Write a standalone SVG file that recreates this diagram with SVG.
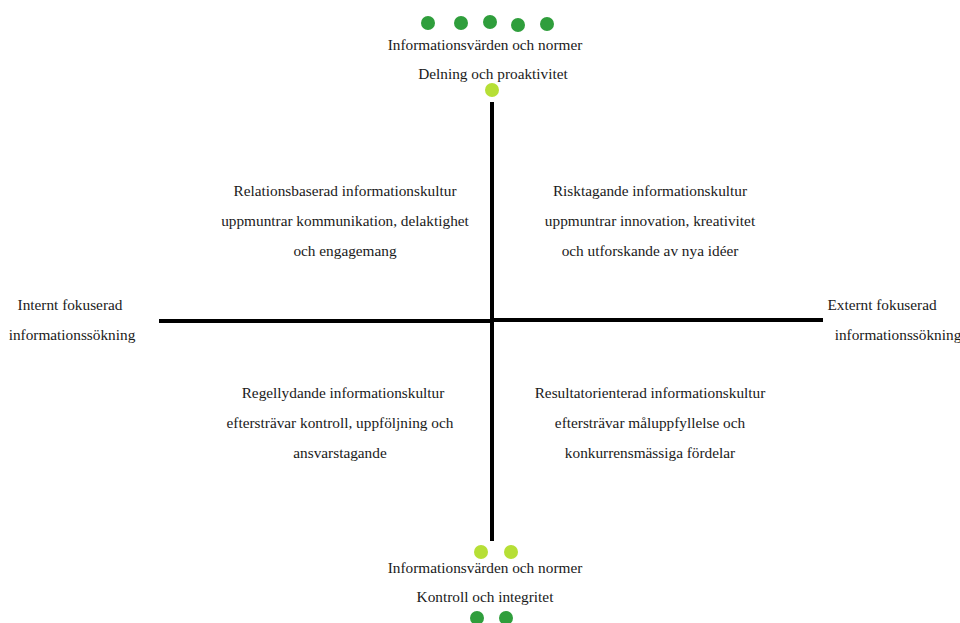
<svg xmlns="http://www.w3.org/2000/svg" width="960" height="623" viewBox="0 0 960 623">
  <style>
    text { font-family: 'Liberation Serif', Tinos, 'Times New Roman', 'DejaVu Serif', serif; font-size: 15.3px; fill: #1a1a1a; text-anchor: middle; }
    .dark { fill: #2f9e3c; }
    .lime { fill: #b6df36; }
    .axis { stroke: #000; stroke-width: 4; fill: none; }
  </style>
  <rect width="960" height="623" fill="#fff"/>

  <!-- axes -->
  <g id="connectors">
    <line class="axis" x1="492" y1="102" x2="492" y2="541"/>
    <line class="axis" x1="159" y1="321" x2="492" y2="321"/>
    <line class="axis" x1="492" y1="320" x2="823" y2="320"/>
  </g>

  <!-- top pole -->
  <g id="top-pole">
    <circle class="dark" cx="428" cy="23" r="7"/>
    <circle class="dark" cx="461" cy="23" r="7"/>
    <circle class="dark" cx="490" cy="22" r="7"/>
    <circle class="dark" cx="518" cy="25" r="7"/>
    <circle class="dark" cx="547" cy="24" r="7"/>
    <text x="485" y="50">Informationsvärden och normer</text>
    <text x="493" y="79">Delning och proaktivitet</text>
    <circle class="lime" cx="492" cy="90" r="7"/>
  </g>

  <!-- bottom pole -->
  <g id="bottom-pole">
    <circle class="lime" cx="481" cy="552" r="7"/>
    <circle class="lime" cx="511" cy="552" r="7"/>
    <text x="485" y="573">Informationsvärden och normer</text>
    <text x="485" y="602">Kontroll och integritet</text>
    <circle class="dark" cx="477" cy="618" r="7"/>
    <circle class="dark" cx="506" cy="618" r="7"/>
  </g>

  <g id="left-axis-label">
    <text x="70" y="310">Internt fokuserad</text>
    <text x="72" y="340">informationssökning</text>
  </g>

  <g id="right-axis-label">
    <text x="882" y="310">Externt fokuserad</text>
    <text x="898" y="340">informationssökning</text>
  </g>

  <g id="quadrant-top-left">
    <text x="345" y="196">Relationsbaserad informationskultur</text>
    <text x="345" y="226">uppmuntrar kommunikation, delaktighet</text>
    <text x="345" y="256">och engagemang</text>
  </g>

  <g id="quadrant-top-right">
    <text x="650" y="196">Risktagande informationskultur</text>
    <text x="650" y="226">uppmuntrar innovation, kreativitet</text>
    <text x="650" y="256">och utforskande av nya idéer</text>
  </g>

  <g id="quadrant-bottom-left">
    <text x="343" y="398">Regellydande informationskultur</text>
    <text x="340" y="428">eftersträvar kontroll, uppföljning och</text>
    <text x="340" y="458">ansvarstagande</text>
  </g>

  <g id="quadrant-bottom-right">
    <text x="650" y="398">Resultatorienterad informationskultur</text>
    <text x="650" y="428">eftersträvar måluppfyllelse och</text>
    <text x="650" y="458">konkurrensmässiga fördelar</text>
  </g>
</svg>
